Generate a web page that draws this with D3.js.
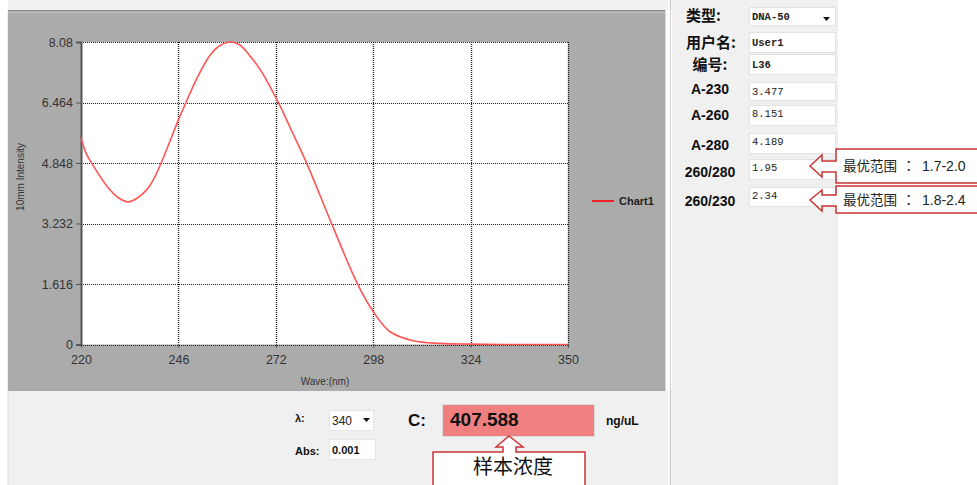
<!DOCTYPE html>
<html><head><meta charset="utf-8">
<script src="https://cdn.jsdelivr.net/npm/d3@7"></script>
<style>
html,body{margin:0;padding:0;background:#fff;}
svg{display:block;}
</style></head>
<body>
<svg id="c" width="977" height="485"></svg>
<script>
// ---------- data ----------
const wavelengths = [220,221.3,223,227,230,232.6,235,237.5,239.3,241.4,246,248,251,254.4,257,260,262.4,265,267.8,272.7,276.5,280.2,286.9,293.8,298,302.5,308.7,315.8,324,337,350];
const intensities = [5.53,5.12,4.82,4.22,3.92,3.81,3.91,4.13,4.40,4.85,6.0,6.46,7.12,7.72,7.98,8.08,8.0,7.72,7.35,6.46,5.65,4.85,3.23,1.62,0.88,0.34,0.10,0.03,0.01,0.0,0.0];
const xTicks = [220,246,272,298,324,350];
const yTicks = [0,1.616,3.232,4.848,6.464,8.08];
const seriesName = "Chart1";
const xTitle = "Wave:(nm)";
const yTitle = "10mm Intensity";
const fieldLabels = ["类型:","用户名:","编号:","A-230","A-260","A-280","260/280","260/230"];
const fieldValues = ["DNA-50","User1","L36","3.477","8.151","4.189","1.95","2.34"];
const rangeNoteHeads = ["最优范围","最优范围"];
const rangeNoteValues = ["1.7-2.0","1.8-2.4"];
const lambdaValue = "340";
const absValue = "0.001";
const concValue = "407.588";
const concUnit = "ng/uL";
const concNote = "样本浓度";

const svg = d3.select("#c");
const sans = "'Liberation Sans', Arial, sans-serif";
const cjk = "'Noto Sans CJK SC', sans-serif";
const mono = "'Liberation Mono', 'DejaVu Sans Mono', monospace";

// ---------- backgrounds ----------
svg.append("rect").attr("x",8).attr("y",0).attr("width",664).attr("height",10).attr("fill","#f0f0f0");
svg.append("rect").attr("x",672).attr("y",0).attr("width",166).attr("height",485).attr("fill","#f0f0f0");
svg.append("rect").attr("x",8).attr("y",391).attr("width",664).attr("height",94).attr("fill","#f0f0f0");
svg.append("line").attr("x1",8).attr("x2",8).attr("y1",10).attr("y2",485).attr("stroke","#dcdcdc");
// gray chart panel
svg.append("rect").attr("x",8).attr("y",10).attr("width",657).attr("height",381).attr("fill","#ababab");
svg.append("line").attr("x1",8).attr("x2",665).attr("y1",10.5).attr("y2",10.5).attr("stroke","#8a8a8a");
svg.append("line").attr("x1",8).attr("x2",665).attr("y1",12.5).attr("y2",12.5).attr("stroke","#bcbcbc");
svg.append("line").attr("x1",665.5).attr("x2",665.5).attr("y1",10).attr("y2",391).attr("stroke","#d6d6d6");
svg.append("line").attr("x1",668.5).attr("x2",668.5).attr("y1",0).attr("y2",485).attr("stroke","#ffffff");
svg.append("line").attr("x1",670.5).attr("x2",670.5).attr("y1",0).attr("y2",485).attr("stroke","#d0d0d0");

// ---------- scales ----------
const x = d3.scaleLinear().domain([220,350]).range([81,568]);
const y = d3.scaleLinear().domain([0,8.08]).range([344.5,42]);

// plot area
svg.append("rect").attr("x",x(220)).attr("y",y(8.08)).attr("width",x(350)-x(220)).attr("height",y(0)-y(8.08)).attr("fill","#fff");

// grid
const g = svg.append("g");
g.selectAll(".hg").data(yTicks).join("line")
  .attr("x1",x(220)).attr("x2",x(350))
  .attr("y1",d=>Math.round(y(d))+0.5).attr("y2",d=>Math.round(y(d))+0.5)
  .attr("stroke","#222").attr("stroke-dasharray","1,1").attr("stroke-width",1);
g.selectAll(".vg").data(xTicks.slice(1)).join("line")
  .attr("y1",y(8.08)).attr("y2",y(0))
  .attr("x1",d=>Math.round(x(d))+0.5).attr("x2",d=>Math.round(x(d))+0.5)
  .attr("stroke","#222").attr("stroke-dasharray","1,1").attr("stroke-width",1.4);

// y axis
const yAxis = d3.axisLeft(y).tickValues(yTicks).tickFormat(d=>String(d)).tickSize(5).tickPadding(3);
const ya = svg.append("g").attr("transform",`translate(${x(220)},0)`).call(yAxis);
ya.select(".domain").attr("stroke","#555").attr("stroke-width",2);
ya.selectAll(".tick line").attr("stroke","#555");
ya.selectAll("text").attr("font-family",sans).attr("font-size",12.5).attr("fill","#333");

// x axis
const xAxis = d3.axisBottom(x).tickValues(xTicks).tickFormat(d=>String(d)).tickSize(3).tickPadding(8);
const xa = svg.append("g").attr("transform",`translate(0,${y(0)})`).call(xAxis);
xa.select(".domain").remove();
xa.selectAll(".tick line").attr("stroke","#444");
xa.selectAll("text").attr("font-family",sans).attr("font-size",12.5).attr("fill","#333");

// axis titles
svg.append("text").attr("x",325).attr("y",385).attr("text-anchor","middle")
  .attr("font-family",sans).attr("font-size",10).attr("fill","#333").text(xTitle);
svg.append("text").attr("transform","translate(24,177) rotate(-90)").attr("text-anchor","middle")
  .attr("font-family",sans).attr("font-size",10).attr("fill","#333").text(yTitle);

// curve
const data = wavelengths.map((w,i)=>({w, v:intensities[i]}));
const line = d3.line().x(d=>x(d.w)).y(d=>Math.min(y(0), y(d.v))).curve(d3.curveCatmullRom.alpha(0.5));
svg.append("path").datum(data).attr("d",line).attr("fill","none")
  .attr("stroke","#ff5555").attr("stroke-width",1.6);

// legend
svg.append("line").attr("x1",592).attr("x2",614).attr("y1",201).attr("y2",201).attr("stroke","#ee2222").attr("stroke-width",2);
svg.append("text").attr("x",619).attr("y",205).attr("font-family",sans).attr("font-weight","bold")
  .attr("font-size",11).attr("fill","#222").text(seriesName);

// ---------- right panel ----------
const labelY = [15,42,64,89,115,145,172,201];
const boxTop = [7,32,54,82,105,133,159,187];
const boxH = [18,20,20,18,20,20,20,19];
fieldLabels.forEach((lab,i)=>{
  const isCjk = i<3;
  const anchorStart = isCjk && i!==2;
  svg.append("text").attr("x", i===2?710:(isCjk?686:710)).attr("y",labelY[i]+(isCjk?5.5:5))
    .attr("text-anchor", anchorStart?"start":"middle")
    .attr("font-family",isCjk?cjk:sans).attr("font-weight","bold")
    .attr("font-size",isCjk?15:14).attr("fill","#111").text(lab);
  svg.append("rect").attr("x",749.5).attr("y",boxTop[i]+0.5).attr("width",86).attr("height",boxH[i])
    .attr("fill","#fff").attr("stroke","#e2e2e2");
  const ty = i<4 ? boxTop[i]+boxH[i]/2+4 : boxTop[i]+12;
  svg.append("text").attr("x",752).attr("y",ty).attr("font-family",mono)
    .attr("font-size",10.5).attr("fill","#222").attr("font-weight", i<3?"bold":"normal").text(fieldValues[i]);
});
// dropdown arrow
svg.append("path").attr("d","M823,17 L830,17 L826.5,21 Z").attr("fill","#111");

// callouts
const calloutRed = "#cc3333";
const co = [
  {tip:166, head:[155,177], stem:[161,172], box:[149,183]},
  {tip:200, head:[190,211], stem:[195,206], box:[186,213]}
];
co.forEach((c,i)=>{
  const p = `M810,${c.tip} L822,${c.head[0]} L822,${c.stem[0]} L836,${c.stem[0]} L836,${c.box[0]} L985,${c.box[0]} L985,${c.box[1]} L836,${c.box[1]} L836,${c.stem[1]} L822,${c.stem[1]} L822,${c.head[1]} Z`;
  svg.append("path").attr("d",p).attr("fill","#fff").attr("stroke",calloutRed).attr("stroke-width",1.5);
  const t = svg.append("text").attr("y",(c.box[0]+c.box[1])/2+5).attr("fill","#222").attr("font-size",13.5);
  t.append("tspan").attr("x",843).attr("font-family",cjk).text(rangeNoteHeads[i]);
  t.append("tspan").attr("x",902).attr("font-family","'Noto Sans CJK JP', sans-serif").text("：");
  t.append("tspan").attr("x",922).attr("font-family",sans).attr("font-size",14).text(rangeNoteValues[i]);
});

// ---------- bottom panel ----------
svg.append("text").attr("x",295).attr("y",422).attr("font-family",sans).attr("font-weight","bold").attr("font-size",11).attr("fill","#111").text("λ:");
svg.append("rect").attr("x",329.5).attr("y",410.5).attr("width",44).attr("height",20).attr("fill","#fff").attr("stroke","#e6e6e6");
svg.append("text").attr("x",332).attr("y",424.5).attr("font-family",sans).attr("font-size",12).attr("fill","#222").text(lambdaValue);
svg.append("path").attr("d","M363,418 L370,418 L366.5,422 Z").attr("fill","#111");
svg.append("text").attr("x",295).attr("y",454.5).attr("font-family",sans).attr("font-weight","bold").attr("font-size",11).attr("fill","#111").text("Abs:");
svg.append("rect").attr("x",329.5).attr("y",439.5).attr("width",46).attr("height",20).attr("fill","#fff").attr("stroke","#e6e6e6");
svg.append("text").attr("x",332).attr("y",454).attr("font-family",sans).attr("font-weight","bold").attr("font-size",11).attr("fill","#111").text(absValue);

svg.append("text").attr("x",408).attr("y",426).attr("font-family",sans).attr("font-weight","bold").attr("font-size",17).attr("fill","#111").text("C:");
svg.append("rect").attr("x",442.5).attr("y",404.5).attr("width",152).attr("height",32).attr("fill","#f08080").attr("stroke","#dddddd");
svg.append("text").attr("x",450).attr("y",426).attr("font-family",sans).attr("font-weight","bold").attr("font-size",19).attr("fill","#111").text(concValue);
svg.append("text").attr("x",606).attr("y",425).attr("font-family",sans).attr("font-weight","bold").attr("font-size",12).attr("fill","#111").text(concUnit);

// bottom callout
const bp = "M509,436 L523,447 L516,447 L516,452 L585,452 L585,490 L433,490 L433,452 L503,452 L503,447 L496,447 Z";
svg.append("path").attr("d",bp).attr("fill","#fff").attr("stroke",calloutRed).attr("stroke-width",1.5);
svg.append("text").attr("x",513).attr("y",474).attr("text-anchor","middle").attr("font-family",cjk)
  .attr("font-size",20).attr("fill","#111").text(concNote);
</script>
</body></html>
